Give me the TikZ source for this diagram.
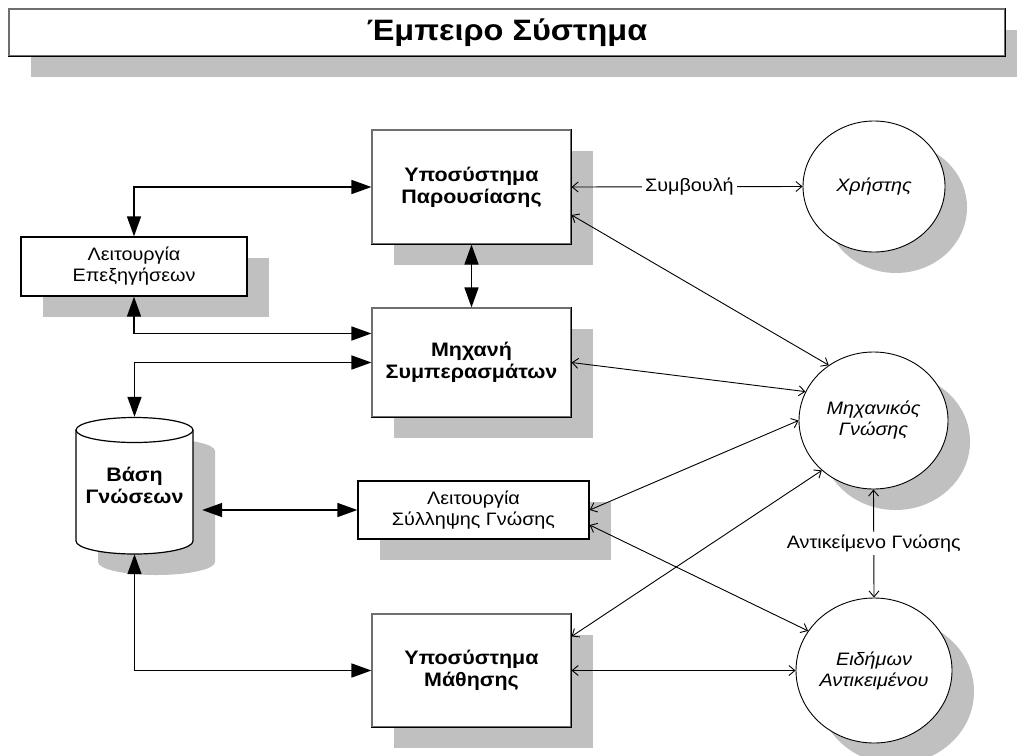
\documentclass[tikz,border=0pt]{standalone}
\usepackage{fontspec}
\setmainfont[FakeStretch=1.1]{Liberation Sans}
\usetikzlibrary{arrows.meta,shapes.geometric,shadows,calc}
\definecolor{shadowgray}{RGB}{192,192,192}
\definecolor{edgegray}{RGB}{110,110,110}

\begin{document}
\begin{tikzpicture}[x=1pt,y=-1pt,
  shadowed/.style={drop shadow={shadow xshift=22pt,shadow yshift=-21pt,fill=shadowgray,opacity=1}},
  boxbase/.style={rectangle,draw=black,line width=1.3pt,fill=white,inner sep=0pt,align=center,shadowed},
  raisedbox/.style={boxbase,draw=edgegray,line width=1.1pt},
  bigbox/.style={raisedbox,font=\fontsize{19.5}{22}\selectfont\bfseries},
  smallbox/.style={boxbase,font=\fontsize{18}{21}\selectfont},
  darkedge/.style={line width=1.4pt,line cap=rect},
  actor/.style={ellipse,draw=black,line width=0.9pt,fill=white,inner sep=0pt,align=center,
    font=\fontsize{18}{21}\selectfont\itshape,shadowed},
  heavy/.style={line width=1.5pt,arrows={Triangle[length=20pt,width=14pt]-Triangle[length=20pt,width=14pt]}},
  light/.style={line width=0.9pt,arrows={Straight Barb[length=6pt,width=10pt]-Straight Barb[length=6pt,width=10pt]}},
  tag/.style={fill=white,inner sep=3pt,font=\fontsize{18}{21}\selectfont}
]
\useasboundingbox (0,0) rectangle (1017,755);

% title bar
\node[raisedbox,minimum width=996pt,minimum height=47pt,font=\fontsize{29.5}{34}\selectfont\bfseries]
  (title) at (507,32.5) {Έμπειρο Σύστημα};

% subsystems
\node[bigbox,minimum width=199pt,minimum height=114pt] (pres)  at (471.5,187)   {Υποσύστημα\\Παρουσίασης};
\node[smallbox,minimum width=226pt,minimum height=59pt] (expl) at (134,266.5)   {Λειτουργία\\Επεξηγήσεων};
\node[bigbox,minimum width=199pt,minimum height=109pt] (infer) at (471.5,362.5) {Μηχανή\\Συμπερασμάτων};
\node[smallbox,minimum width=231pt,minimum height=58pt] (acq)  at (473.5,510)   {Λειτουργία\\Σύλληψης Γνώσης};
\node[bigbox,minimum width=199pt,minimum height=113pt] (learn) at (471.5,670.5) {Υποσύστημα\\Μάθησης};

% darker lower and right edges of the raised boxes
\foreach \b in {title,pres,infer,learn}
  \draw[darkedge] (\b.north east) -- (\b.south east) -- (\b.south west);

% knowledge base cylinder
\begin{scope}[shift={(22,21)}]
  \path[fill=shadowgray] (76,430) -- (76,541)
    arc[start angle=180,end angle=0,x radius=58.5,y radius=13] -- (193,430)
    arc[start angle=0,end angle=-180,x radius=58.5,y radius=12.5] -- cycle;
\end{scope}
\draw[line width=1.2pt,fill=white] (76,430) -- (76,541)
  arc[start angle=180,end angle=0,x radius=58.5,y radius=13] -- (193,430)
  arc[start angle=0,end angle=-180,x radius=58.5,y radius=12.5] -- cycle;
\draw[line width=1.2pt] (76,430) arc[start angle=180,end angle=0,x radius=58.5,y radius=12.5];
\node[minimum width=117pt,minimum height=137pt,inner sep=0pt,align=center,
  font=\fontsize{19.5}{22}\selectfont\bfseries] (db) at (134.5,485.5) {Βάση\\Γνώσεων};

% people
\node[actor,minimum width=142pt,minimum height=131pt] (user) at (874,186.5)   {Χρήστης};
\node[actor,minimum width=149pt,minimum height=137pt] (eng)  at (873.5,420.5) {Μηχανικός\\Γνώσης};
\node[actor,minimum width=156pt,minimum height=145pt] (exp)  at (874,670.5)   {Ειδήμων\\Αντικειμένου};

% internal data flows
\draw[heavy] (expl.north) |- (pres.west);
\draw[heavy] (expl.south) |- ([yshift=29pt]infer.west);
\draw[heavy] (db.north) |- (infer.west);
\draw[heavy] (pres.south) -- (infer.north);
\coordinate (dbe) at ($(acq.west -| db.east)+(9,0)$);
\draw[heavy] (dbe) -- (acq.west);
\draw[heavy] (db.south) |- (learn.west);

% interaction with people
\draw[light] (pres.east) -- node[tag,pos=0.51] {Συμβουλή} (user.west);
\draw[light] ([yshift=-28pt]pres.east) -- (eng.129);
\draw[light] (infer.east) -- (eng.157);
\draw[light] (acq.east) -- (eng.west);
\draw[light] ([yshift=-23pt]learn.north east) -- (eng.224);
\draw[light] ([yshift=-15pt]acq.east) -- (exp.149);
\draw[light] (learn.east) -- (exp.west);
\draw[light] (eng.south) -- node[tag] {Αντικείμενο Γνώσης} (exp.north);
\end{tikzpicture}
\end{document}
